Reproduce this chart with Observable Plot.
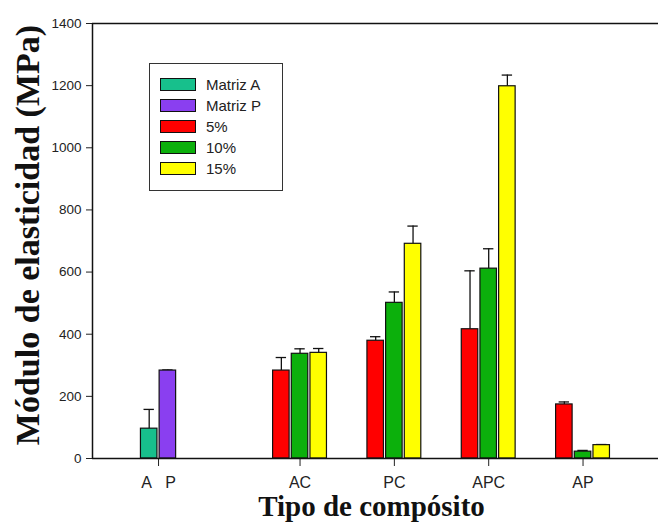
<!DOCTYPE html>
<html>
<head>
<meta charset="utf-8">
<script src="https://cdn.jsdelivr.net/npm/d3@7"></script>
<script src="https://cdn.jsdelivr.net/npm/@observablehq/plot@0.6"></script>
<style>
  body { margin: 0; background: #fff; }
  #wrap { position: relative; width: 658px; height: 528px; }
  #legend { position: absolute; left: 149px; top: 63px; width: 134px; height: 128px;
            border: 1.5px solid #333; box-sizing: border-box; background: #fff; }
  .row { position: absolute; left: 10px; height: 14px; display: flex; align-items: center;
         font-family: "Liberation Sans", Arial, sans-serif; font-size: 15px; color: #222; }
  .sw { width: 36px; height: 13px; border: 1px solid #111; margin-right: 10px; box-sizing: border-box; }
</style>
</head>
<body>
<div id="wrap"></div>
<script>
// ---- data ----
const groups = ["A P", "AC", "PC", "APC", "AP"];
const matrizNames = ["Matriz A", "Matriz P"];
const matrizValues = [96, 283];
const matrizErrors = [62, 2];
const fiberSeries = ["5%", "10%", "15%"];
const fiberGroups = ["AC", "PC", "APC", "AP"];
const fiber5 = [283, 379, 416, 174];
const err5 = [42, 13, 188, 8];
const fiber10 = [337, 501, 611, 22];
const err10 = [16, 35, 64, 4];
const fiber15 = [340, 691, 1198, 43];
const err15 = [14, 57, 36, 2];
const yTicks = [0, 200, 400, 600, 800, 1000, 1200, 1400];
const seriesNames = ["Matriz A", "Matriz P", "5%", "10%", "15%"];
const seriesColors = ["#17c08c", "#8a3ff0", "#ff0000", "#0cb00c", "#ffff00"];

// ---- layout helpers ----
const groupPos = i => (i === 0 ? 0 : i + 0.5);
const slot = 0.198;
const barW = 0.175;
const capHalf = 0.055;

const rows = [];
matrizNames.forEach((s, j) => {
  rows.push({series: s, group: groups[0], value: matrizValues[j], err: matrizErrors[j],
             xc: groupPos(0) + (j - 0.5) * slot});
});
const fv = [fiber5, fiber10, fiber15];
const fe = [err5, err10, err15];
fiberSeries.forEach((s, j) => {
  fiberGroups.forEach((g, k) => {
    const gi = groups.indexOf(g);
    rows.push({series: s, group: g, value: fv[j][k], err: fe[j][k],
               xc: groupPos(gi) + (j - 1) * slot});
  });
});

const tickLabel = new Map(groups.map((g, i) => [groupPos(i), i === 0 ? "A\u00a0\u00a0\u00a0P" : g]));
const serif = "'Liberation Serif', 'Times New Roman', serif";

const chart = Plot.plot({
  width: 658,
  height: 528,
  marginLeft: 92,
  marginRight: 0,
  marginTop: 23,
  marginBottom: 70,
  style: {fontFamily: "'Liberation Sans', Arial, sans-serif", fontSize: "13px", color: "#222", background: "#fff"},
  x: {domain: [-0.7, 5.3]},
  y: {domain: [0, 1400]},
  color: {domain: seriesNames, range: seriesColors},
  marks: [
    Plot.ruleY([1400], {stroke: "#111", strokeWidth: 1.5}),
    Plot.ruleX(rows, {x: "xc", y1: "value", y2: d => d.value + d.err, stroke: "#111", strokeWidth: 1.3}),
    Plot.ruleY(rows, {y: d => d.value + d.err, x1: d => d.xc - capHalf, x2: d => d.xc + capHalf, stroke: "#111", strokeWidth: 1.3}),
    Plot.rectY(rows, {x1: d => d.xc - barW / 2, x2: d => d.xc + barW / 2, y1: 0, y2: "value",
                      fill: "series", stroke: "#111", strokeWidth: 1.2}),
    Plot.axisY(yTicks, {tickSize: 6, tickPadding: 5, label: null, fontSize: 13.5, stroke: "#222",
                        tickFormat: d => String(d)}),
    Plot.axisX(groups.map((g, i) => groupPos(i)), {tickSize: 8, tickPadding: 10, label: null, fontSize: 16,
                      tickFormat: d => tickLabel.get(d)}),
    Plot.ruleX([-0.7], {stroke: "#111", strokeWidth: 1.5}),
    Plot.ruleY([0], {stroke: "#111", strokeWidth: 1.5}),
    Plot.text(["Módulo de elasticidad (MPa)"], {frameAnchor: "left", textAnchor: "middle", rotate: -90, dx: -64, dy: -6,
      fontSize: 34, fontWeight: "bold", fontFamily: serif, fill: "#111"}),
    Plot.text(["Tipo de compósito"], {frameAnchor: "bottom", textAnchor: "middle", dy: 57, dx: -4,
      fontSize: 29, fontWeight: "bold", fontFamily: serif, fill: "#111"})
  ]
});

const wrap = document.getElementById("wrap");
wrap.appendChild(chart);

// legend
const legend = document.createElement("div");
legend.id = "legend";
seriesNames.forEach((s, i) => {
  const r = document.createElement("div");
  r.className = "row";
  r.style.top = (13 + i * 21) + "px";
  const sw = document.createElement("div");
  sw.className = "sw";
  sw.style.background = seriesColors[i];
  const t = document.createElement("span");
  t.textContent = s;
  r.appendChild(sw);
  r.appendChild(t);
  legend.appendChild(r);
});
wrap.appendChild(legend);
</script>
</body>
</html>
